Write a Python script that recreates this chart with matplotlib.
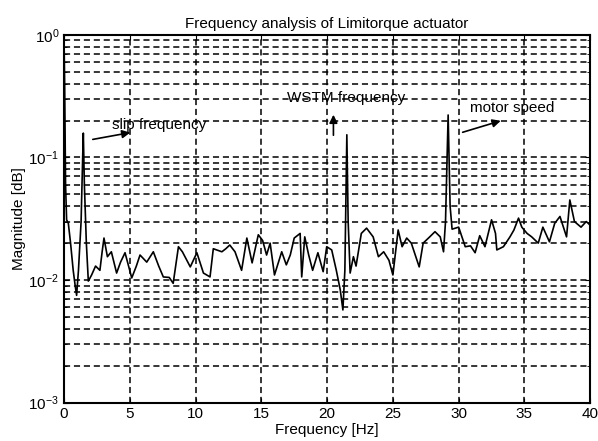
#Importing libraries
import matplotlib
matplotlib.use("Agg")
import matplotlib.pyplot as plt

#Spectrum (frequency in Hz, magnitude)
freq = [0.0, 0.05, 0.12, 0.2, 0.33, 0.5, 0.7, 0.85, 0.96, 1.1, 1.3, 1.42, 1.47, 1.55, 1.7, 1.85,
        2.1, 2.4, 2.73, 2.9, 3.04, 3.3, 3.6, 4.0, 4.3, 4.64, 5.15, 5.5, 5.78, 6.29, 6.79, 7.2,
        7.55, 8.0, 8.3, 8.7, 9.0, 9.6, 10.1, 10.6, 11.1, 11.35, 12.0, 12.3, 12.6, 13.0, 13.5,
        13.9, 14.3, 14.77, 15.1, 15.4, 15.67, 16.0, 16.55, 16.9, 17.2, 17.5, 17.95, 18.07, 18.3,
        18.6, 18.9, 19.3, 19.7, 19.97, 20.35, 20.7, 21.0, 21.2, 21.35, 21.5, 21.6, 21.75, 22.0,
        22.2, 22.6, 23.0, 23.5, 23.9, 24.3, 24.7, 25.0, 25.4, 25.7, 26.05, 26.4, 27.0, 27.3,
        27.8, 28.2, 28.6, 28.85, 29.0, 29.2, 29.35, 29.5, 30.0, 30.5, 30.9, 31.25, 31.6, 32.0,
        32.5, 32.8, 32.9, 33.4, 33.9, 34.2, 34.55, 34.8, 35.2, 35.55, 36.05, 36.4, 36.9, 37.3,
        37.7, 38.2, 38.45, 38.8, 39.3, 39.7, 40.0]
magnitude = [0.95, 0.4, 0.06, 0.031, 0.029, 0.02, 0.012, 0.009, 0.0075, 0.012, 0.03, 0.1, 0.158,
             0.06, 0.02, 0.0098, 0.011, 0.013, 0.012, 0.017, 0.022, 0.0155, 0.017, 0.0114, 0.014,
             0.0167, 0.0104, 0.013, 0.016, 0.014, 0.017, 0.013, 0.0106, 0.0105, 0.0094, 0.0187,
             0.017, 0.0128, 0.0167, 0.0114, 0.0106, 0.018, 0.017, 0.018, 0.0193, 0.017, 0.012,
             0.022, 0.0138, 0.0234, 0.021, 0.016, 0.02, 0.011, 0.017, 0.0133, 0.016, 0.022, 0.024,
             0.0106, 0.0225, 0.016, 0.012, 0.0167, 0.0117, 0.0187, 0.0176, 0.012, 0.0083, 0.0057,
             0.012, 0.153, 0.03, 0.0114, 0.0155, 0.013, 0.024, 0.0265, 0.0225, 0.0155, 0.017,
             0.0145, 0.011, 0.0256, 0.0187, 0.022, 0.02, 0.0128, 0.02, 0.0225, 0.0248, 0.0225,
             0.017, 0.03, 0.222, 0.04, 0.026, 0.027, 0.0187, 0.019, 0.0167, 0.023, 0.0187, 0.031,
             0.024, 0.0176, 0.0187, 0.0225, 0.0256, 0.032, 0.027, 0.024, 0.0225, 0.02, 0.027,
             0.0205, 0.029, 0.033, 0.0225, 0.045, 0.03, 0.027, 0.03, 0.028]

#Annotations: label, text position, arrow start, arrow tip
notes = [
    ("slip frequency", (3.65, 0.184), (1.98, 0.139), (5.25, 0.161)),
    ("WSTM frequency", (16.96, 0.306), (20.48, 0.144), (20.48, 0.235)),
    ("motor speed", (30.87, 0.253), (30.1, 0.158), (33.4, 0.202)),
]

plt.rcParams['font.family'] = ['Liberation Sans', 'DejaVu Sans']

fig = plt.figure(figsize=(5.98, 4.41), dpi=100)
ax = fig.add_axes([0.107, 0.087, 0.88, 0.834])

ax.semilogy(freq, magnitude, color="black", linewidth=1.2)

ax.set_xlim(0, 40)
ax.set_ylim(1e-3, 1)
ax.set_xticks(range(0, 41, 5))

#MATLAB style dashed grid
dash = (0, (4, 2.5))
ax.grid(True, which="major", axis="both", color="black", linestyle=dash, linewidth=1.1)
ax.grid(True, which="minor", axis="y", color="black", linestyle=dash, linewidth=1.1)

ax.tick_params(direction="in", which="both", top=True, right=True, labelsize=11)
ax.tick_params(which="minor", labelleft=False)
for s in ax.spines.values():
    s.set_linewidth(1.5)

for label, text_pos, start, tip in notes:
    ax.text(text_pos[0], text_pos[1], label, fontsize=11, va="center", ha="left")
    ax.annotate("", xy=tip, xytext=start,
                arrowprops=dict(arrowstyle="-|>", color="black", lw=1.2, mutation_scale=12))

ax.set_title("Frequency analysis of Limitorque actuator", fontsize=11, pad=5)
ax.set_xlabel("Frequency [Hz]", fontsize=11, labelpad=1)
ax.set_ylabel("Magnitude [dB]", fontsize=11, labelpad=2)

fig.savefig("out.png", dpi=100)
